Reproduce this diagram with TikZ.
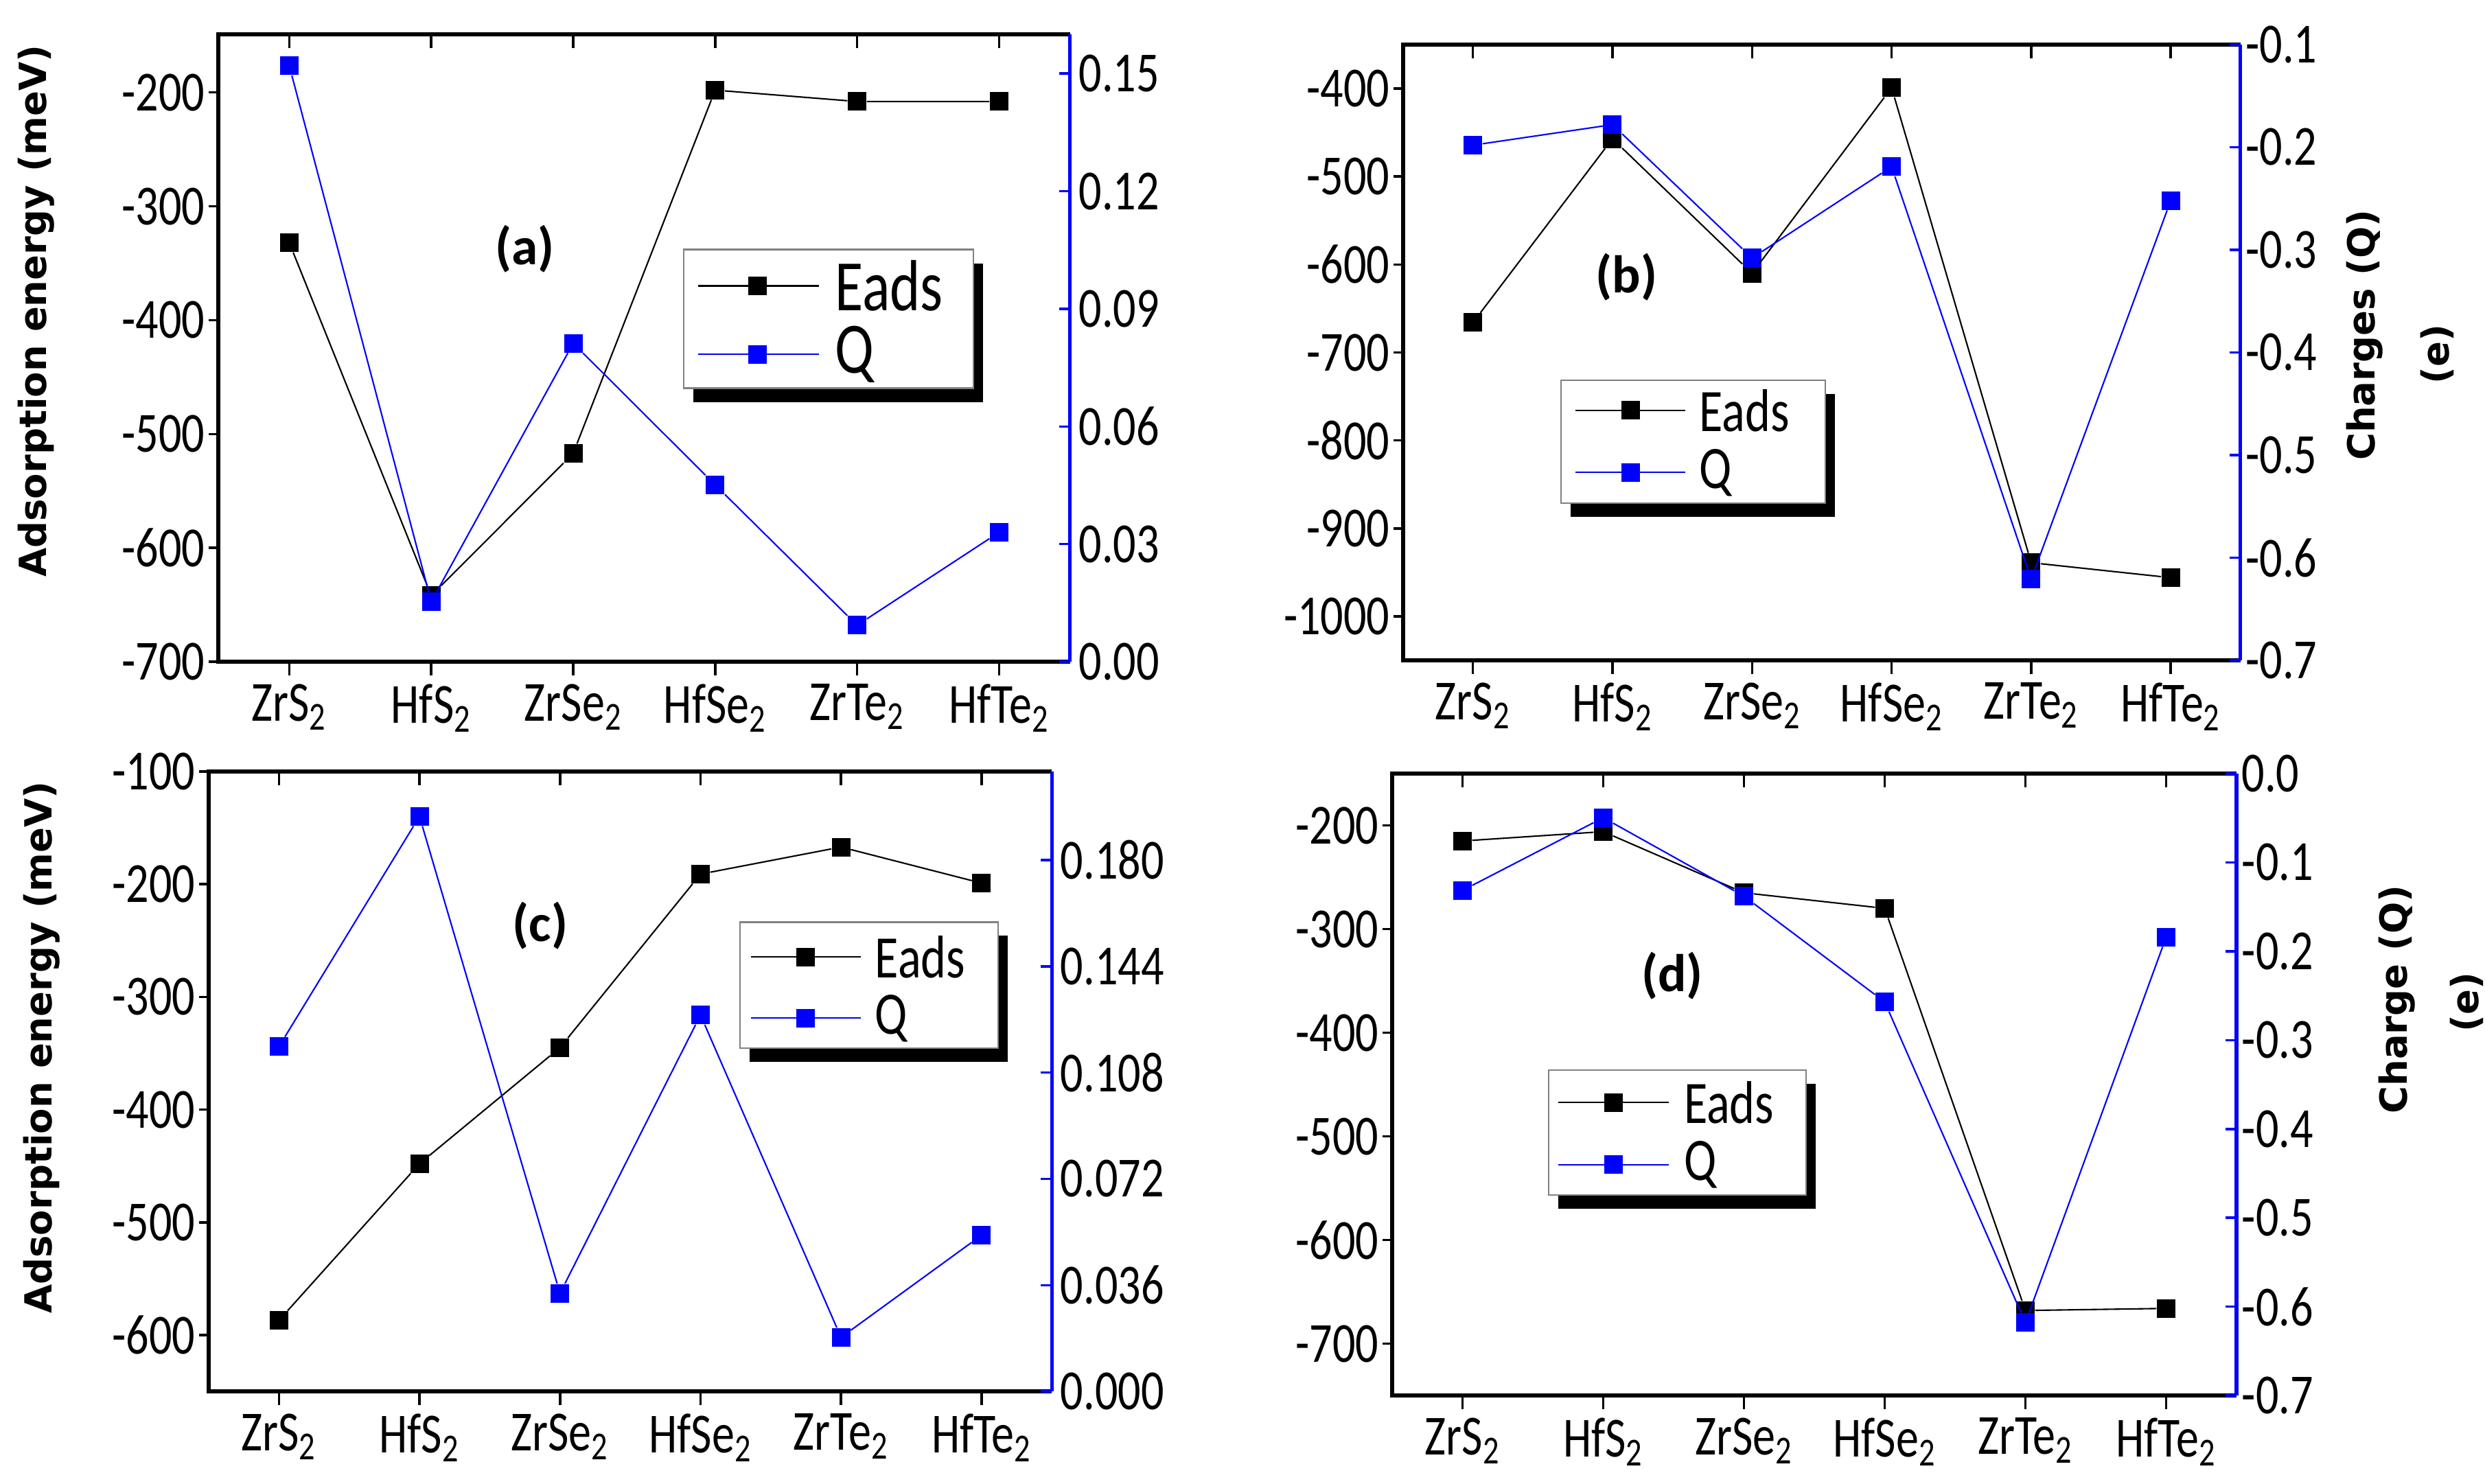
\documentclass[tikz,border=0pt]{standalone}
\usepackage{fontspec}
\setmainfont{Carlito}
\newfontfamily\tickfont[FakeStretch=0.8]{Carlito}
\newfontfamily\titlefont{DejaVu Sans}
\definecolor{qblue}{RGB}{0,0,255}
\tikzset{
  tick/.style={font=\tickfont\fontsize{23.5}{26}\selectfont, inner sep=2pt},
  cat/.style={font=\tickfont\fontsize{23.5}{26}\selectfont, anchor=north, inner sep=0pt},
  mk/.style={rectangle, fill=black, minimum size=0.27cm, inner sep=0pt},
  qmk/.style={rectangle, fill=qblue, minimum size=0.27cm, inner sep=0pt},
  eline/.style={black, line width=0.6pt},
  qline/.style={qblue, line width=0.6pt},
  axis/.style={line width=1.5pt},
  plab/.style={font=\bfseries\fontsize{22}{26}\selectfont},
  ttl/.style={font=\titlefont\bfseries\fontsize{15.5}{18}\selectfont, rotate=90},
  legtxt/.style={anchor=west, inner sep=0pt},
}
\newcommand{\cats}{%
  \foreach \c/\t [count=\i] in {Zr/S,Hf/S,Zr/Se,Hf/Se,Zr/Te,Hf/Te}{
    \draw[axis, line width=1pt] (\i-0.5,0) -- ++(0,-0.2cm);
    \draw[axis, line width=1pt] (\i-0.5,1) -- ++(0,-0.2cm);
    \node[cat] (cat\i) at ([yshift=-0.32cm]\i-0.5,0) {\c\t\textsubscript{2}};
  }}
\newcommand{\frameit}{%
  \draw[axis] (6,0) -- (0,0) -- (0,1) -- (6,1);
  \draw[axis, qblue] (6,0) -- (6,1);}
\newcommand{\legend}[4]{%
  \fill[black] ([xshift=0.14cm,yshift=-0.2cm]#1,#3) rectangle ([xshift=0.14cm,yshift=-0.2cm]#2,#4);
  \draw[gray, fill=white, line width=0.6pt] (#1,#3) rectangle (#2,#4);
}
\begin{document}
\begin{tikzpicture}
\useasboundingbox (0,0) rectangle (36.20,-21.61);
% ================= (a)
\begin{scope}[shift={(3.18cm,-9.64cm)}, x=2.068cm, y=9.14cm]
\frameit
\cats
\foreach \v in {-700,-600,...,-200}{
  \draw[line width=1pt] (0,{(\v+700)/551}) -- ++(-0.14cm,0);
  \node[tick, anchor=east] (al\v) at ([xshift=-0.12cm]0,{(\v+700)/551}) {\v};}
\foreach \v/\t in {0/0.00,0.03/0.03,0.06/0.06,0.09/0.09,0.12/0.12,0.15/0.15}{
  \draw[qblue, line width=1pt] (6,{\v/0.160}) -- ++(-0.16cm,0);
  \node[tick, anchor=west] (ar\t) at ([xshift=0.05cm]6,{\v/0.160}) {\t};}
\foreach \i/\v in {1/-332,2/-642,3/-517,4/-198,5/-208,6/-208}{
  \node[mk] (ae\i) at (\i-0.5,{(\v+700)/551}) {};}
\foreach \i/\v in {1/0.152,2/0.0153,3/0.0812,4/0.0451,5/0.0093,6/0.033}{
  \node[qmk] (aq\i) at (\i-0.5,{\v/0.160}) {};}
\draw[eline] (ae1)--(ae2)--(ae3)--(ae4)--(ae5)--(ae6);
\draw[qline] (aq1)--(aq2)--(aq3)--(aq4)--(aq5)--(aq6);
\node[plab] (alab) at (2.16,0.658) {(a)};
\legend{3.28}{5.32}{0.436}{0.657}
\coordinate (ale0) at (3.38,0.599); \coordinate (ale1) at (4.23,0.599);
\coordinate (alq0) at (3.38,0.490); \coordinate (alq1) at (4.23,0.490);
\draw[eline] (ale0) -- (ale1); \node[mk] (alem) at (3.80,0.599) {};
\draw[qline] (alq0) -- (alq1); \node[qmk] (alqm) at (3.80,0.490) {};
\node[legtxt, font=\tickfont\fontsize{30}{32}\selectfont] (alet) at (4.34,0.599) {Eads};
\node[legtxt, font=\tickfont\fontsize{30}{32}\selectfont] (alqt) at (4.34,0.490) {Q};
\end{scope}
\node[ttl] (ta) at (0.53,-4.53) {Adsorption energy (meV)};
% ================= (b)
\begin{scope}[shift={(20.44cm,-9.62cm)}, x=2.033cm, y=8.97cm]
\frameit
\cats
\foreach \v in {-1000,-900,...,-400}{
  \draw[line width=1pt] (0,{(\v+1050)/700}) -- ++(-0.14cm,0);
  \node[tick, anchor=east] (bl\v) at ([xshift=-0.12cm]0,{(\v+1050)/700}) {\v};}
\foreach \v in {-0.7,-0.6,-0.5,-0.4,-0.3,-0.2,-0.1}{
  \draw[qblue, line width=1pt] (6,{(\v+0.7)/0.6}) -- ++(-0.16cm,0);
  \node[tick, anchor=west] (br\v) at ([xshift=0.0cm]6,{(\v+0.7)/0.6}) {\v};}
\foreach \i/\v in {1/-666,2/-457,3/-610,4/-399,5/-939,6/-956}{
  \node[mk] (be\i) at (\i-0.5,{(\v+1050)/700}) {};}
\foreach \i/\v in {1/-0.198,2/-0.178,3/-0.308,4/-0.219,5/-0.621,6/-0.252}{
  \node[qmk] (bq\i) at (\i-0.5,{(\v+0.7)/0.6}) {};}
\draw[eline] (be1)--(be2)--(be3)--(be4)--(be5)--(be6);
\draw[qline] (bq1)--(bq2)--(bq3)--(bq4)--(bq5)--(bq6);
\node[plab] (blab) at (1.60,0.622) {(b)};
\legend{1.13}{3.025}{0.255}{0.4545}
\coordinate (ble0) at (1.234,0.406); \coordinate (ble1) at (2.02,0.406);
\coordinate (blq0) at (1.234,0.305); \coordinate (blq1) at (2.02,0.305);
\draw[eline] (ble0) -- (ble1); \node[mk] (blem) at (1.63,0.406) {};
\draw[qline] (blq0) -- (blq1); \node[qmk] (blqm) at (1.63,0.305) {};
\node[legtxt, font=\tickfont\fontsize{25}{28}\selectfont] (blet) at (2.12,0.406) {Eads};
\node[legtxt, font=\tickfont\fontsize{25}{28}\selectfont] (blqt) at (2.12,0.305) {Q};
\end{scope}
\node[ttl] (tb1) at (34.45,-4.88) {Charges (Q)};
\node[ttl] (tb2) at (35.50,-5.16) {(e)};
% ================= (c)
\begin{scope}[shift={(3.04cm,-20.27cm)}, x=2.047cm, y=9.03cm]
\frameit
\cats
\foreach \v in {-600,-500,...,-100}{
  \draw[line width=1pt] (0,{(\v+650)/550}) -- ++(-0.14cm,0);
  \node[tick, anchor=east] (cl\v) at ([xshift=-0.12cm]0,{(\v+650)/550}) {\v};}
\foreach \v/\t in {0/0.000,0.036/0.036,0.072/0.072,0.108/0.108,0.144/0.144,0.18/0.180}{
  \draw[qblue, line width=1pt] (6,{\v/0.210}) -- ++(-0.16cm,0);
  \node[tick, anchor=west] (cr\t) at ([xshift=0.05cm]6,{\v/0.210}) {\t};}
\foreach \i/\v in {1/-587,2/-448,3/-345,4/-191,5/-167,6/-199}{
  \node[mk] (ce\i) at (\i-0.5,{(\v+650)/550}) {};}
\foreach \i/\v in {1/0.1168,2/0.1948,3/0.0332,4/0.1275,5/0.0183,6/0.0529}{
  \node[qmk] (cq\i) at (\i-0.5,{\v/0.210}) {};}
\draw[eline] (ce1)--(ce2)--(ce3)--(ce4)--(ce5)--(ce6);
\draw[qline] (cq1)--(cq2)--(cq3)--(cq4)--(cq5)--(cq6);
\node[plab] (clab) at (2.36,0.751) {(c)};
\legend{3.78}{5.62}{0.554}{0.757}
\coordinate (cle0) at (3.86,0.701); \coordinate (cle1) at (4.64,0.701);
\coordinate (clq0) at (3.86,0.602); \coordinate (clq1) at (4.64,0.602);
\draw[eline] (cle0) -- (cle1); \node[mk] (clem) at (4.25,0.701) {};
\draw[qline] (clq0) -- (clq1); \node[qmk] (clqm) at (4.25,0.602) {};
\node[legtxt, font=\tickfont\fontsize{25}{28}\selectfont] (clet) at (4.74,0.701) {Eads};
\node[legtxt, font=\tickfont\fontsize{25}{28}\selectfont] (clqt) at (4.74,0.602) {Q};
\end{scope}
\node[ttl] (tc) at (0.61,-15.26) {Adsorption energy (meV)};
% ================= (d)
\begin{scope}[shift={(20.28cm,-20.33cm)}, x=2.05cm, y=9.06cm]
\frameit
\cats
\foreach \v in {-700,-600,...,-200}{
  \draw[line width=1pt] (0,{(\v+750)/600}) -- ++(-0.14cm,0);
  \node[tick, anchor=east] (dl\v) at ([xshift=-0.12cm]0,{(\v+750)/600}) {\v};}
\foreach \v/\t in {-0.7/-0.7,-0.6/-0.6,-0.5/-0.5,-0.4/-0.4,-0.3/-0.3,-0.2/-0.2,-0.1/-0.1,0/0.0}{
  \draw[qblue, line width=1pt] (6,{(\v+0.7)/0.7}) -- ++(-0.16cm,0);
  \node[tick, anchor=west] (dr\t) at ([xshift=0.0cm]6,{(\v+0.7)/0.7}) {\t};}
\foreach \i/\v in {1/-215,2/-206,3/-265,4/-280,5/-668,6/-666}{
  \node[mk] (de\i) at (\i-0.5,{(\v+750)/600}) {};}
\foreach \i/\v in {1/-0.1315,2/-0.0496,3/-0.138,4/-0.257,5/-0.618,6/-0.184}{
  \node[qmk] (dq\i) at (\i-0.5,{(\v+0.7)/0.7}) {};}
\draw[eline] (de1)--(de2)--(de3)--(de4)--(de5)--(de6);
\draw[qline] (dq1)--(dq2)--(dq3)--(dq4)--(dq5)--(dq6);
\node[plab] (dlab) at (1.99,0.675) {(d)};
\legend{1.11}{2.94}{0.3225}{0.523}
\coordinate (dle0) at (1.18,0.471); \coordinate (dle1) at (1.965,0.471);
\coordinate (dlq0) at (1.18,0.371); \coordinate (dlq1) at (1.965,0.371);
\draw[eline] (dle0) -- (dle1); \node[mk] (dlem) at (1.575,0.471) {};
\draw[qline] (dlq0) -- (dlq1); \node[qmk] (dlqm) at (1.575,0.371) {};
\node[legtxt, font=\tickfont\fontsize{25}{28}\selectfont] (dlet) at (2.07,0.471) {Eads};
\node[legtxt, font=\tickfont\fontsize{25}{28}\selectfont] (dlqt) at (2.07,0.371) {Q};
\end{scope}
\node[ttl] (td1) at (34.92,-14.56) {Charge (Q)};
\node[ttl] (td2) at (35.93,-14.60) {(e)};
\end{tikzpicture}
\end{document}
